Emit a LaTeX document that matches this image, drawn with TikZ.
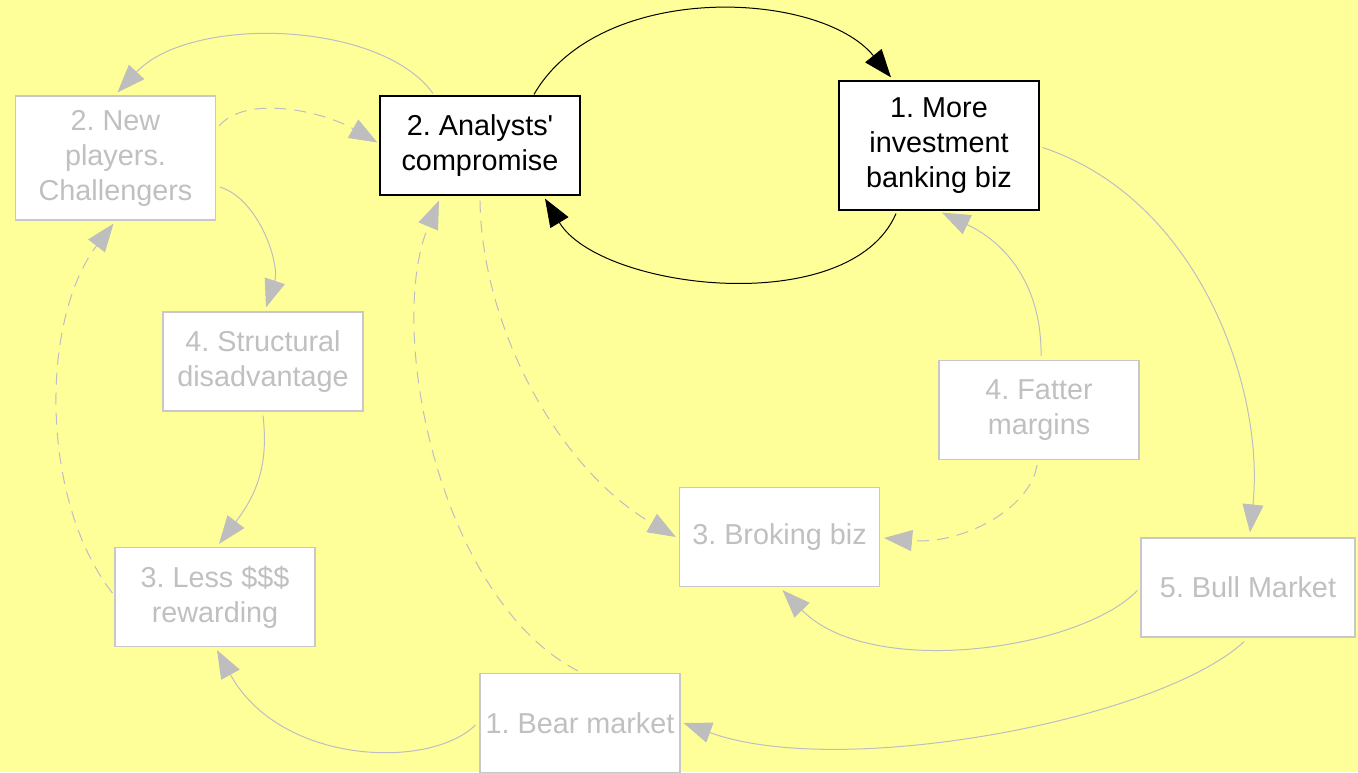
\documentclass[tikz,border=0pt]{standalone}
\usepackage{fontspec}
\setmainfont{Liberation Sans}
\usetikzlibrary{arrows.meta,calc}
\definecolor{bgyellow}{HTML}{FFFF99}
\definecolor{fadetext}{HTML}{C0C0C0}
\definecolor{fadeborder}{HTML}{C8C8C8}
\definecolor{fadeline}{HTML}{BDBDC4}
\definecolor{fadetip}{HTML}{BEBEBE}
\frenchspacing
\begin{document}
\begin{tikzpicture}[x=0.5pt,y=-0.5pt,
  box/.style={draw=black, fill=white, line width=0.6pt, minimum width=100pt,
    minimum height=49.5pt, inner sep=0pt, align=center,
    font=\fontsize{14.4}{17.5}\selectfont},
  dim/.style={box, draw=fadeborder, text=fadetext},
  link/.style={line width=0.5pt, draw=black, -{Triangle[length=14pt,width=10.5pt]}},
  dimlink/.style={line width=0.5pt, draw=fadeline, -{Triangle[length=14pt,width=10.5pt,color=fadetip,fill=fadetip]}},
  dimdash/.style={dimlink, dash pattern=on 6pt off 4pt}
]
% canvas
\fill[bgyellow] (0,0) rectangle (1358,772);
\useasboundingbox (0,0) rectangle (1358,772);

% boxes
\node[dim, minimum height=62pt] (np)   at (115.5,158) {2. New\\players.\\Challengers};
\node[box]                      (ana)  at (480,145.5) {2. Analysts\textquotesingle\\compromise};
\node[box, minimum height=64.5pt] (more) at (939,145.5) {1. More\\investment\\banking biz};
\node[dim]                      (str)  at (263,361.5) {4. Structural\\disadvantage};
\node[dim]                      (fat)  at (1039,410)  {4. Fatter\\margins};
\node[dim]                      (brk)  at (779.5,537) {3. Broking biz};
\node[dim]                      (less) at (215,597)   {3. Less \$\$\$\\rewarding};
\node[dim, minimum width=107pt] (bull) at (1248,587.5) {5. Bull Market};
\node[dim]                      (bear) at (580,723)   {1. Bear market};

% central reinforcing loop
\draw[link] ($(ana.north)+(54,-1)$) .. controls (600,-20) and (820,-10) .. ($(more.north)+(-48,-3)$);
\draw[link] ($(more.south)+(-43,3)$) .. controls (850,320) and (600,290) .. ($(ana.south)+(65,3)$);

% left loop
\draw[dimlink] ($(ana.north)+(-47,-2)$) .. controls (380,20) and (190,15) .. ($(np.north)+(2,-3)$);
\draw[dimdash] ($(np.east)+(3,-32)$) .. controls (245,95) and (320,110) .. ($(ana.west)+(-2,-3)$);
\draw[dimlink] ($(np.east)+(4,29)$) .. controls (260,200) and (280,265) .. ($(str.north)+(3,-4)$);
\draw[dimlink] ($(str.south)+(0,4)$) .. controls (268,460) and (260,490) .. ($(less.north)+(4,-3)$);
\draw[dimdash] ($(less.west)+(-2,-4)$) .. controls (40,500) and (40,320) .. ($(np.south)+(-2,3)$);
\draw[dimlink] ($(bear.west)+(-4,2)$) .. controls (430,770) and (280,765) .. ($(less.south)+(2,3)$);
\draw[dimdash] ($(bear.north)+(-2,-2)$) .. controls (440,600) and (385,330) .. ($(ana.south)+(-41,5)$);

% right loop
\draw[dimdash] ($(ana.south)+(0,5)$) .. controls (482,330) and (560,470) .. ($(brk.west)+(-3,0)$);
\draw[dimdash] ($(fat.south)+(-2,5)$) .. controls (1030,510) and (960,545) .. ($(brk.east)+(4,1)$);
\draw[dimlink] ($(fat.north)+(2,-4)$) .. controls (1042,290) and (1010,245) .. ($(more.south)+(3,2)$);
\draw[dimlink] ($(more.east)+(3,2)$) .. controls (1200,200) and (1265,390) .. ($(bull.north)+(2,-5)$);
\draw[dimlink] ($(bull.west)+(-3,3)$) .. controls (1080,650) and (870,680) .. ($(brk.south)+(3,3)$);
\draw[dimlink] ($(bull.south)+(-4,4)$) .. controls (1160,720) and (840,780) .. ($(bear.east)+(3,0)$);
\end{tikzpicture}
\end{document}
